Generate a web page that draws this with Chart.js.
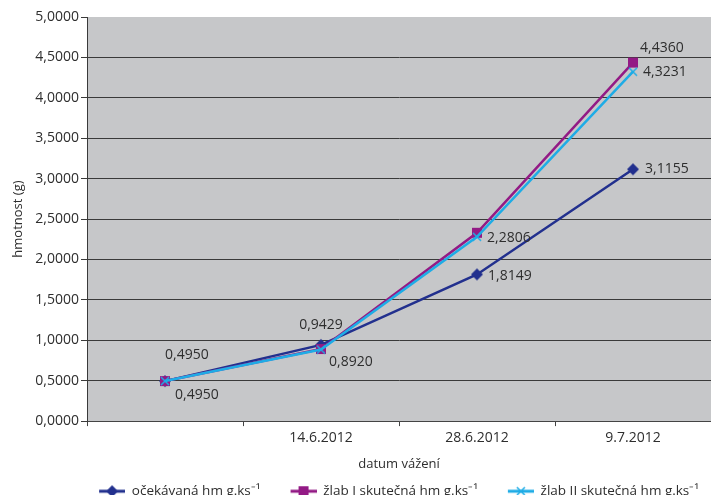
<!DOCTYPE html>
<html>
<head>
<meta charset="utf-8">
<script src="https://cdn.jsdelivr.net/npm/chart.js@4"></script>
<style>
  html, body { margin: 0; padding: 0; background: #fff; overflow: hidden; }
  #wrap { position: relative; width: 711px; height: 508px; }
</style>
</head>
<body>
<div id="wrap"><canvas id="vahy"></canvas></div>
<script>
// datum vážení
const categories = ['', '14.6.2012', '28.6.2012', '9.7.2012'];
// hmotnost (g)
const ocekavana = [0.4950, 0.9429, 1.8149, 3.1155];
const zlab1 = [0.4950, 0.8920, 2.3300, 4.4360];
const zlab2 = [0.4950, 0.8850, 2.2806, 4.3231];
const yTickValues = [0, 0.5, 1, 1.5, 2, 2.5, 3, 3.5, 4, 4.5, 5];

const seriesNames = ['očekávaná hm g.ks⁻¹', 'žlab I skutečná hm g.ks⁻¹', 'žlab II skutečná hm g.ks⁻¹'];
const colors = ['#22308e', '#931a85', '#1eace6'];
const markers = ['diamond', 'square', 'cross'];

const fmt = v => v.toFixed(4).replace('.', ',');

// point index -> [dx, dy, align]
const valueLabels = [
  { 0: [0, -26, 'left'], 1: [0, -20, 'center'], 2: [11, 2, 'left'], 3: [12, 0, 'left'] },
  { 1: [8, 13, 'left'], 3: [7, -15, 'left'] },
  { 0: [10, 14, 'left'], 2: [10, 1, 'left'], 3: [10, 0, 'left'] }
];

function drawMarker(g, shape, color, x, y) {
  g.fillStyle = color;
  g.strokeStyle = color;
  if (shape === 'diamond') {
    g.beginPath();
    g.moveTo(x, y - 6); g.lineTo(x + 6, y); g.lineTo(x, y + 6); g.lineTo(x - 6, y);
    g.closePath(); g.fill();
  } else if (shape === 'square') {
    g.fillRect(x - 5, y - 5, 10, 10);
  } else {
    g.lineWidth = 1.5;
    g.beginPath();
    g.moveTo(x - 4, y - 4); g.lineTo(x + 4, y + 4);
    g.moveTo(x + 4, y - 4); g.lineTo(x - 4, y + 4);
    g.stroke();
  }
}

// legend symbol: empty gap on the left, then line with marker
function legendIcon(i) {
  const c = document.createElement('canvas');
  c.width = 44; c.height = 14;
  const g = c.getContext('2d');
  g.strokeStyle = colors[i];
  g.lineWidth = 3;
  g.beginPath(); g.moveTo(18, 7); g.lineTo(44, 7); g.stroke();
  drawMarker(g, markers[i], colors[i], 31, 7);
  return c;
}

function pointIcon(i) {
  const c = document.createElement('canvas');
  c.width = 14; c.height = 14;
  drawMarker(c.getContext('2d'), markers[i], colors[i], 7, 7);
  return c;
}

const plotBackground = {
  id: 'plotBackground',
  beforeDraw(chart) {
    const { ctx, chartArea: a } = chart;
    ctx.save();
    ctx.fillStyle = '#c6c7c9';
    ctx.fillRect(a.left, a.top, a.right - a.left, a.bottom - a.top);
    ctx.restore();
  }
};

const pointValues = {
  id: 'pointValues',
  afterDatasetsDraw(chart) {
    const ctx = chart.ctx;
    ctx.save();
    ctx.font = "14px 'Open Sans', sans-serif";
    ctx.fillStyle = '#2e2e2e';
    ctx.textBaseline = 'middle';
    valueLabels.forEach((spec, di) => {
      const meta = chart.getDatasetMeta(di);
      Object.keys(spec).forEach(k => {
        const pt = meta.data[k];
        const [dx, dy, align] = spec[k];
        ctx.textAlign = align;
        ctx.fillText(fmt(chart.data.datasets[di].data[k]), pt.x + dx, pt.y + dy);
      });
    });
    ctx.restore();
  }
};

Chart.defaults.font.family = "'Open Sans', sans-serif";
Chart.defaults.color = '#2e2e2e';

const datasets = [ocekavana, zlab1, zlab2].map((d, i) => ({
  label: seriesNames[i],
  data: d,
  borderColor: colors[i],
  backgroundColor: colors[i],
  borderWidth: 2.5,
  pointStyle: pointIcon(i),
  pointRadius: 6,
  tension: 0,
  order: 3 - i
}));

new Chart(document.getElementById('vahy'), {
  type: 'line',
  data: { labels: categories, datasets },
  options: {
    responsive: true,
    maintainAspectRatio: false,
    animation: false,
    layout: { autoPadding: false, padding: { top: 17, right: 0, left: 0, bottom: 0 } },
    plugins: {
      tooltip: { enabled: false },
      legend: {
        position: 'bottom',
        align: 'end',
        labels: {
          usePointStyle: true,
          pointStyleWidth: 44,
          padding: 12,
          font: { size: 13.5 },
          color: '#2e2e2e',
          generateLabels: chart => chart.data.datasets.map((ds, i) => ({
            text: ds.label,
            pointStyle: legendIcon(i),
            fillStyle: colors[i],
            strokeStyle: colors[i],
            lineWidth: 0,
            hidden: false,
            datasetIndex: i,
            fontColor: '#2e2e2e'
          }))
        }
      }
    },
    scales: {
      x: {
        offset: true,
        afterFit: s => { s.paddingRight = 0; },
        grid: { offset: true, drawOnChartArea: false, tickLength: 5, color: '#444' },
        border: { color: '#444' },
        ticks: { font: { size: 14 }, padding: 4, maxRotation: 0 },
        title: { display: true, text: 'datum vážení', font: { size: 13 }, padding: { top: 6, bottom: 0 } }
      },
      y: {
        min: 0,
        max: 5,
        afterBuildTicks: s => { s.ticks = yTickValues.map(v => ({ value: v })); },
        afterFit: s => { s.width = 87; },
        grid: {
          color: c => c.tick && c.tick.value === 5 ? 'rgba(0,0,0,0)' : '#3a3a3a',
          tickColor: '#3a3a3a',
          tickLength: 6
        },
        border: { color: '#3a3a3a' },
        ticks: { font: { size: 14 }, padding: 2, callback: v => fmt(v) },
        title: { display: true, text: 'hmotnost (g)', font: { size: 13 }, padding: 10 }
      }
    }
  },
  plugins: [plotBackground, pointValues]
});
</script>
</body>
</html>
